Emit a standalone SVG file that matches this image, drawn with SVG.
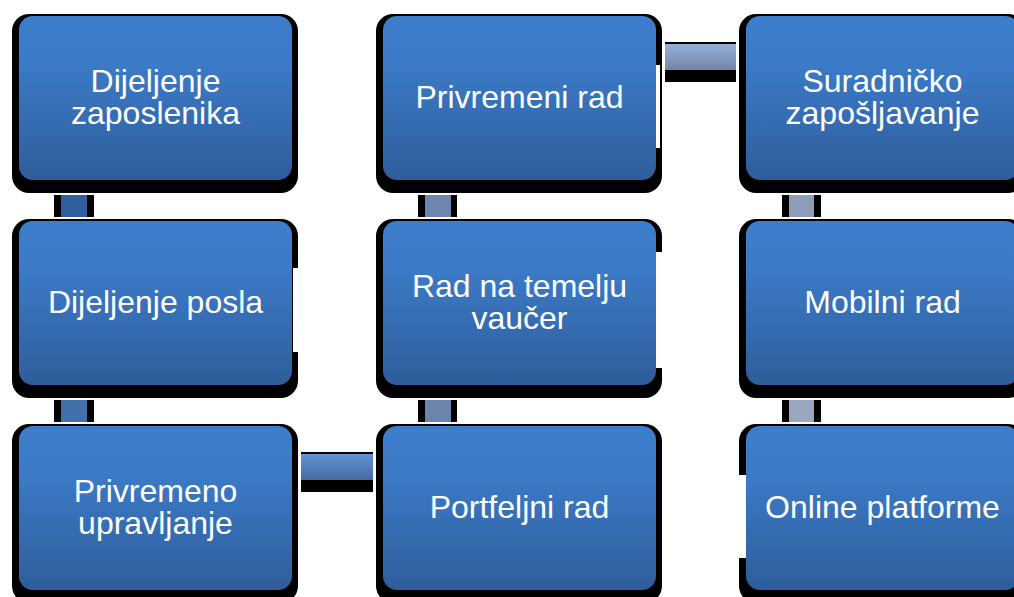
<svg xmlns="http://www.w3.org/2000/svg" width="1014" height="597" viewBox="0 0 1014 597">
  <defs>
    <linearGradient id="boxGrad" x1="0" y1="0" x2="0" y2="1">
      <stop offset="0" stop-color="#3d7ecc"/>
      <stop offset="0.3" stop-color="#3b7ac6"/>
      <stop offset="1" stop-color="#2f5d9b"/>
    </linearGradient>
    <linearGradient id="hTop" x1="0" y1="0" x2="0" y2="1">
      <stop offset="0" stop-color="#97afd8"/>
      <stop offset="1" stop-color="#7185a8"/>
    </linearGradient>
    <linearGradient id="hBot" x1="0" y1="0" x2="0" y2="1">
      <stop offset="0" stop-color="#6392d2"/>
      <stop offset="1" stop-color="#456ba3"/>
    </linearGradient>
    <style>
      .shadow { fill: #000000; }
      .box { fill: url(#boxGrad); }
      .gap { fill: #ffffff; }
      .lbl { font-family: "Liberation Sans", Arial, sans-serif; font-size: 32px; fill: #ffffff; text-anchor: middle; }
      .cblack { fill: #000000; }
    </style>
  </defs>
  <rect width="1014" height="597" fill="#ffffff"/>

  <g id="connectors">
    <rect class="cblack" x="54" y="195" width="40" height="22"/>
    <rect x="61" y="195" width="26" height="22" fill="#2f5f9f"/>
    <rect class="cblack" x="54" y="400" width="40" height="22"/>
    <rect x="61" y="400" width="26" height="22" fill="#4170ab"/>
    <rect class="cblack" x="418" y="195" width="39" height="22"/>
    <rect x="425" y="195" width="26" height="22" fill="#6e86ad"/>
    <rect class="cblack" x="418" y="400" width="39" height="22"/>
    <rect x="425" y="400" width="26" height="22" fill="#6a84ae"/>
    <rect class="cblack" x="782" y="195" width="39" height="22"/>
    <rect x="789" y="195" width="25" height="22" fill="#8e9cb8"/>
    <rect class="cblack" x="782" y="400" width="39" height="22"/>
    <rect x="789" y="400" width="25" height="22" fill="#9ba7bf"/>
    <rect class="cblack" x="665" y="42" width="71" height="40"/>
    <rect x="665" y="44" width="71" height="26" fill="url(#hTop)"/>
    <rect class="cblack" x="301" y="452" width="72" height="40"/>
    <rect x="301" y="454" width="72" height="26" fill="url(#hBot)"/>
  </g>

  <g id="node-dijeljenje-zaposlenika">
    <rect class="shadow" x="12" y="14" width="286" height="179" rx="17"/>
    <rect class="box" x="19" y="16" width="273" height="164" rx="14"/>
    <text class="lbl" x="155.5" y="92">Dijeljenje<tspan x="155.5" dy="32">zaposlenika</tspan></text>
  </g>

  <g id="node-privremeni-rad">
    <rect class="shadow" x="376" y="14" width="286" height="179" rx="17"/>
    <rect class="box" x="383" y="16" width="273" height="164" rx="14"/>
    <rect class="gap" x="656" y="65" width="4" height="83"/>
    <text class="lbl" x="519.5" y="108">Privremeni rad</text>
  </g>

  <g id="node-suradnicko-zaposljavanje">
    <rect class="shadow" x="739" y="14" width="286" height="179" rx="17"/>
    <rect class="box" x="746" y="16" width="273" height="164" rx="14"/>
    <text class="lbl" x="882.5" y="92">Suradničko<tspan x="882.5" dy="32">zapošljavanje</tspan></text>
  </g>

  <g id="node-dijeljenje-posla">
    <rect class="shadow" x="12" y="219" width="286" height="179" rx="17"/>
    <rect class="box" x="19" y="221" width="273" height="164" rx="14"/>
    <rect class="gap" x="293" y="268" width="6" height="84"/>
    <text class="lbl" x="155.5" y="313">Dijeljenje posla</text>
  </g>

  <g id="node-rad-na-temelju-vaucer">
    <rect class="shadow" x="376" y="219" width="286" height="179" rx="17"/>
    <rect class="box" x="383" y="221" width="273" height="164" rx="14"/>
    <rect class="gap" x="656" y="252" width="8" height="116"/>
    <text class="lbl" x="519.5" y="297">Rad na temelju<tspan x="519.5" dy="32">vaučer</tspan></text>
  </g>

  <g id="node-mobilni-rad">
    <rect class="shadow" x="739" y="219" width="286" height="179" rx="17"/>
    <rect class="box" x="746" y="221" width="273" height="164" rx="14"/>
    <text class="lbl" x="882.5" y="313">Mobilni rad</text>
  </g>

  <g id="node-privremeno-upravljanje">
    <rect class="shadow" x="12" y="424" width="286" height="179" rx="17"/>
    <rect class="box" x="19" y="426" width="273" height="164" rx="14"/>
    <text class="lbl" x="155.5" y="502">Privremeno<tspan x="155.5" dy="32">upravljanje</tspan></text>
  </g>

  <g id="node-portfeljni-rad">
    <rect class="shadow" x="376" y="424" width="286" height="179" rx="17"/>
    <rect class="box" x="383" y="426" width="273" height="164" rx="14"/>
    <text class="lbl" x="519.5" y="518">Portfeljni rad</text>
  </g>

  <g id="node-online-platforme">
    <rect class="shadow" x="739" y="424" width="286" height="179" rx="17"/>
    <rect class="box" x="746" y="426" width="273" height="164" rx="14"/>
    <rect class="gap" x="738" y="475" width="8" height="83"/>
    <text class="lbl" x="882.5" y="518">Online platforme</text>
  </g>
</svg>
